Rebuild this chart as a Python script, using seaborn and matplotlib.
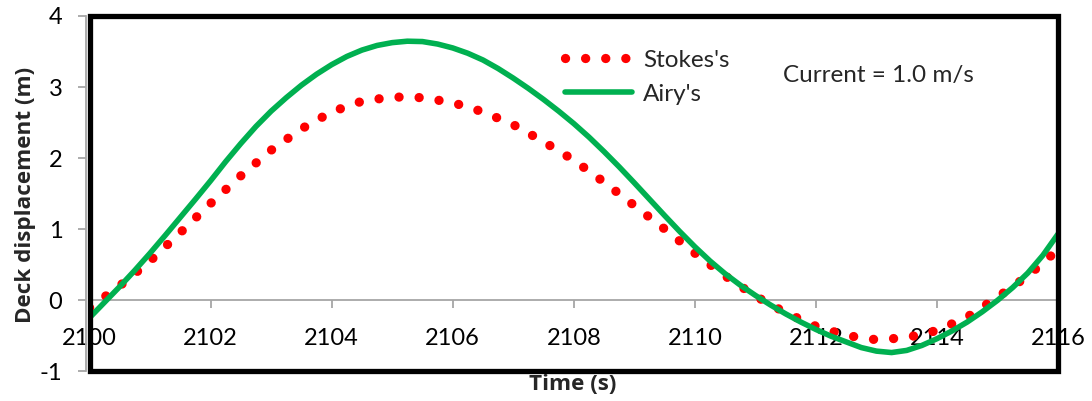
import numpy as np
import pandas as pd
import matplotlib
matplotlib.use("Agg")
import matplotlib.pyplot as plt
import seaborn as sns
from matplotlib.patches import Rectangle

# Stokes's deck displacement (m), sampled every 0.5 s
stokes_t = [2100.0, 2100.5, 2101.0, 2101.5, 2102.0, 2102.5, 2103.0, 2103.5,
            2104.0, 2104.5, 2105.0, 2105.5, 2106.0, 2106.5, 2107.0, 2107.5,
            2108.0, 2108.5, 2109.0, 2109.5, 2110.0, 2110.5, 2111.0, 2111.5,
            2112.0, 2112.5, 2113.0, 2113.5, 2114.0, 2114.5, 2115.0, 2115.5,
            2116.0]
stokes = [-0.11, 0.20, 0.55, 0.95, 1.36, 1.75, 2.11, 2.41,
          2.65, 2.80, 2.86, 2.85, 2.78, 2.65, 2.47, 2.23,
          1.97, 1.66, 1.33, 1.00, 0.66, 0.34, 0.055, -0.18,
          -0.37, -0.50, -0.56, -0.53, -0.43, -0.24, 0.04, 0.34,
          0.71]

# Airy's deck displacement (m), sampled every 0.25 s
airy_t = [2100.00, 2100.25, 2100.50, 2100.75, 2101.00, 2101.25, 2101.50, 2101.75,
          2102.00, 2102.25, 2102.50, 2102.75, 2103.00, 2103.25, 2103.50, 2103.75,
          2104.00, 2104.25, 2104.50, 2104.75, 2105.00, 2105.25, 2105.50, 2105.75,
          2106.00, 2106.25, 2106.50, 2106.75, 2107.00, 2107.25, 2107.50, 2107.75,
          2108.00, 2108.25, 2108.50, 2108.75, 2109.00, 2109.25, 2109.50, 2109.75,
          2110.00, 2110.25, 2110.50, 2110.75, 2111.00, 2111.25, 2111.50, 2111.75,
          2112.00, 2112.25, 2112.50, 2112.75, 2113.00, 2113.25, 2113.50, 2113.75,
          2114.00, 2114.25, 2114.50, 2114.75, 2115.00, 2115.25, 2115.50, 2115.75,
          2116.00]
airy = [-0.25, -0.03, 0.19, 0.42, 0.66, 0.91, 1.165, 1.42,
        1.68, 1.95, 2.205, 2.445, 2.66, 2.85, 3.025, 3.18,
        3.315, 3.43, 3.52, 3.585, 3.625, 3.645, 3.64, 3.605,
        3.55, 3.475, 3.38, 3.26, 3.125, 2.98, 2.825, 2.66,
        2.485, 2.295, 2.09, 1.875, 1.65, 1.42, 1.19, 0.965,
        0.75, 0.55, 0.37, 0.21, 0.065, -0.07, -0.195, -0.31,
        -0.415, -0.51, -0.59, -0.67, -0.72, -0.74, -0.71, -0.64,
        -0.545, -0.435, -0.31, -0.165, -0.005, 0.175, 0.38, 0.63,
        0.93]

series_names = ["Stokes's", "Airy's"]
x_ticks = [2100, 2102, 2104, 2106, 2108, 2110, 2112, 2114, 2116]
y_ticks = [-1, 0, 1, 2, 3, 4]
annotation = "Current = 1.0 m/s"

sns.set_theme(style="white")
plt.rcParams["font.family"] = ["Lato", "DejaVu Sans"]
plt.rcParams["axes.unicode_minus"] = False

fig = plt.figure(figsize=(10.92, 4.01), dpi=100)
ax = fig.add_axes([0.082, 0.0748, 0.8869, 0.8853])

stokes_df = pd.DataFrame({"t": stokes_t, "disp": stokes})
airy_df = pd.DataFrame({"t": airy_t, "disp": airy})

sns.lineplot(data=stokes_df, x="t", y="disp", ax=ax, color="#FF0000", lw=6.7,
             linestyle=(0, (0.01, 2.15)), dash_capstyle="round",
             label=series_names[0], legend=False, zorder=3)
sns.lineplot(data=airy_df, x="t", y="disp", ax=ax, color="#00B050", lw=4.0,
             solid_capstyle="round", solid_joinstyle="round",
             label=series_names[1], legend=False, zorder=4)

ax.set_xlim(2100, 2116)
ax.set_ylim(-1, 4)
ax.set_xticks(x_ticks)
ax.set_yticks(y_ticks)

grey = "#A6A6A6"
ax.spines["bottom"].set_position(("data", 0))
ax.spines["bottom"].set_color(grey)
ax.spines["bottom"].set_linewidth(1.3)
ax.spines["left"].set_color(grey)
ax.spines["left"].set_linewidth(1.3)
ax.spines["left"].set_position(("outward", 2.5))
ax.spines["top"].set_visible(False)
ax.spines["right"].set_visible(False)

ax.tick_params(axis="x", direction="out", length=6, width=1.3, color=grey,
               labelsize=17, pad=14, labelcolor="black")
ax.tick_params(axis="y", direction="out", length=6, width=1.3, color=grey,
               labelsize=17, pad=11, labelcolor="black")
ax.tick_params(bottom=True, left=True)

# plot-area frame
frame = Rectangle((0, 0), 1, 1, transform=ax.transAxes, fill=False,
                  edgecolor="black", lw=3.8, zorder=6, clip_on=False)
ax.add_patch(frame)

label_font = dict(fontsize=16.2, fontweight="bold",
                  family=["Open Sans", "DejaVu Sans"])
ax.set_xlabel("Time (s)", **label_font)
ax.set_ylabel("Deck displacement (m)", **label_font)
ax.xaxis.set_label_coords(0.4992, -0.039)
ax.xaxis.label.set_verticalalignment("center")
ax.yaxis.set_label_coords(-0.0666, 0.496)
ax.yaxis.label.set_verticalalignment("center")

leg = ax.legend(loc="upper left", bbox_to_anchor=(0.491, 0.905),
                frameon=False, fontsize=17.5, handlelength=2.75,
                handletextpad=0.45, labelspacing=0.54, borderpad=0,
                borderaxespad=0)

ax.text(0.716, 0.832, annotation, transform=ax.transAxes, fontsize=17.5,
        ha="left", va="center")

fig.savefig("out.png", dpi=100)
